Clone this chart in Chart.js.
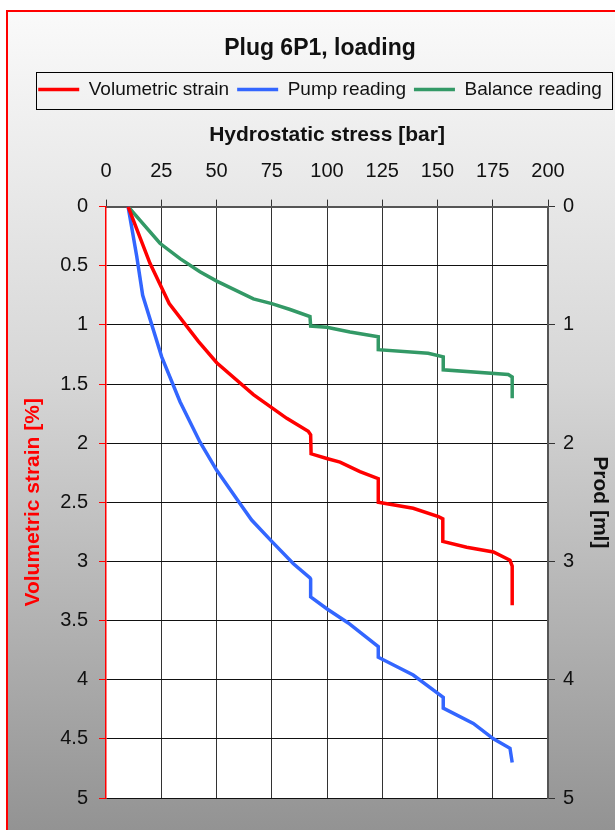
<!DOCTYPE html>
<html>
<head>
<meta charset="utf-8">
<script src="https://cdn.jsdelivr.net/npm/chart.js@4"></script>
<style>
  html, body { margin: 0; padding: 0; background: #fff; }
  #wrap { width: 615px; height: 830px; }
</style>
</head>
<body>
<div id="wrap"><canvas id="chart" width="615" height="830"></canvas></div>
<script>
  // values: hydrostatic stress [bar] vs reading
  var strainStress = [10, 19.9, 28.6, 41.8, 50.1, 66.7, 81.8, 91.5, 92.6, 92.8, 99.9, 105.9, 114.9, 123.2, 123.2, 139.0, 150.4, 152.4, 152.4, 163.2, 175.3, 182.8, 183.8, 183.8];
  var strainValues = [0, 0.48, 0.82, 1.14, 1.32, 1.59, 1.79, 1.90, 1.93, 2.09, 2.13, 2.16, 2.24, 2.30, 2.50, 2.55, 2.62, 2.64, 2.83, 2.88, 2.92, 2.99, 3.04, 3.37];

  var pumpStress = [10, 13.9, 16.6, 25.2, 33.5, 42.5, 50.1, 60.6, 65.9, 75.0, 84.8, 92.3, 92.6, 92.6, 99.9, 109.6, 123.2, 123.2, 139.0, 152.6, 152.6, 166.2, 175.3, 182.8, 183.8];
  var pumpValues = [0, 0.42, 0.75, 1.27, 1.65, 1.99, 2.23, 2.51, 2.65, 2.83, 3.02, 3.14, 3.15, 3.30, 3.40, 3.52, 3.72, 3.81, 3.96, 4.15, 4.24, 4.37, 4.50, 4.58, 4.70];

  var balanceStress = [10, 24.4, 33.5, 42.5, 50.1, 66.7, 75.0, 83.3, 92.3, 92.6, 99.9, 110.4, 123.2, 123.2, 145.8, 152.6, 152.6, 182.0, 183.8, 183.8];
  var balanceValues = [0, 0.31, 0.44, 0.55, 0.63, 0.78, 0.82, 0.87, 0.93, 1.01, 1.02, 1.06, 1.10, 1.21, 1.24, 1.27, 1.38, 1.42, 1.44, 1.62];

  var seriesLabels = ['Volumetric strain', 'Pump reading', 'Balance reading'];
  var seriesColors = ['#ff0000', '#3366ff', '#339966'];

  var chartTitle = 'Plug 6P1, loading';
  var xTitle = 'Hydrostatic stress [bar]';
  var yTitle = 'Volumetric strain [%]';
  var y2Title = 'Prod [ml]';

  var FONT = '"Liberation Sans", Arial, sans-serif';

  function toPoints(xs, ys) {
    return xs.map(function (x, i) { return { x: x, y: ys[i] }; });
  }

  function makeSet(i, xs, ys, axis) {
    return {
      label: seriesLabels[i],
      data: toPoints(xs, ys),
      borderColor: seriesColors[i],
      backgroundColor: seriesColors[i],
      borderWidth: 3.5,
      showLine: true,
      pointRadius: 0,
      tension: 0,
      yAxisID: axis
    };
  }

  // plain number labels: 0, 0.5, 1, 1.5 ...
  function plainTick(v) { return String(+Number(v).toFixed(1)); }

  // frame, gradient background, white plot area and legend box
  var framePlugin = {
    id: 'frame',
    beforeDraw: function (chart) {
      var ctx = chart.ctx, a = chart.chartArea;
      var w = chart.width, h = chart.height;
      ctx.save();
      ctx.fillStyle = '#fff';
      ctx.fillRect(0, 0, w, h);
      var g = ctx.createLinearGradient(0, 11, 0, h);
      g.addColorStop(0, '#fafafa');
      g.addColorStop(0.45, '#d6d6d6');
      g.addColorStop(1, '#939393');
      ctx.fillStyle = g;
      ctx.fillRect(7, 11, w, h);
      ctx.strokeStyle = '#ff0000';
      ctx.lineWidth = 2;
      ctx.strokeRect(7, 11, w + 20, h + 20);
      ctx.fillStyle = '#fff';
      ctx.fillRect(a.left, a.top, a.right - a.left, a.bottom - a.top);

      var lg = chart.legend;
      if (lg && lg.lineWidths) {
        var pad = lg.options.labels.padding;
        var lw = lg.lineWidths[0];
        var x0 = (lg.left + pad + lg.right - lw) / 2;
        ctx.strokeStyle = '#000';
        ctx.lineWidth = 1;
        ctx.strokeRect(Math.round(x0 - 2) + 0.5, Math.round(lg.top) + 0.5, Math.round(lw - pad + 12), Math.round(lg.height));
      }
      ctx.restore();
    }
  };

  new Chart(document.getElementById('chart'), {
    type: 'scatter',
    data: {
      datasets: [
        makeSet(0, strainStress, strainValues, 'y'),
        makeSet(1, pumpStress, pumpValues, 'y2'),
        makeSet(2, balanceStress, balanceValues, 'y2')
      ]
    },
    options: {
      responsive: false,
      animation: false,
      layout: { padding: { top: 12, left: 14, right: -11, bottom: 32 } },
      plugins: {
        title: {
          display: true,
          text: chartTitle,
          color: '#111',
          font: { family: FONT, size: 23, weight: 'bold' },
          padding: { top: 22.5, bottom: 10 }
        },
        legend: {
          display: true,
          position: 'top',
          labels: {
            usePointStyle: true,
            pointStyle: 'line',
            pointStyleWidth: 41,
            padding: 8,
            color: '#111',
            font: { family: FONT, size: 19 }
          }
        },
        tooltip: { enabled: false }
      },
      scales: {
        x: {
          type: 'linear',
          position: 'top',
          min: 0,
          max: 200,
          ticks: { stepSize: 25, color: '#111', padding: 16, font: { family: FONT, size: 20 } },
          grid: {
            color: function (c) { return c.index === 0 ? 'rgba(0,0,0,0)' : '#333'; },
            tickColor: '#333',
            tickLength: 7,
            lineWidth: 1
          },
          border: { color: '#555', width: 2 },
          title: {
            display: true,
            text: xTitle,
            color: '#111',
            font: { family: FONT, size: 21, weight: 'bold' },
            padding: { top: 13.5, bottom: 0 }
          },
          afterFit: function (s) { s.height = 97.5; }
        },
        y: {
          type: 'linear',
          position: 'left',
          reverse: true,
          min: 0,
          max: 5,
          ticks: { stepSize: 0.5, color: '#111', padding: 11, font: { family: FONT, size: 20 }, callback: plainTick },
          grid: { color: '#111', tickColor: '#ff0000', tickLength: 7, lineWidth: 1 },
          border: { color: '#ff0000', width: 1.5 },
          title: {
            display: true,
            text: yTitle,
            color: '#ff0000',
            font: { family: FONT, size: 21, weight: 'bold' },
            padding: { top: 7, bottom: 0 }
          },
          afterFit: function (s) { s.width = 92; }
        },
        y2: {
          type: 'linear',
          position: 'right',
          reverse: true,
          min: 0,
          max: 5,
          ticks: { stepSize: 1, color: '#111', padding: 8, font: { family: FONT, size: 20 }, callback: plainTick },
          grid: { drawOnChartArea: false, tickColor: '#333', tickLength: 7 },
          border: { color: '#555', width: 2 },
          title: {
            display: true,
            text: y2Title,
            color: '#111',
            font: { family: FONT, size: 21, weight: 'bold' },
            padding: { top: 14, bottom: 0 }
          },
          afterFit: function (s) { s.width = 78; }
        }
      }
    },
    plugins: [framePlugin]
  });
</script>
</body>
</html>
